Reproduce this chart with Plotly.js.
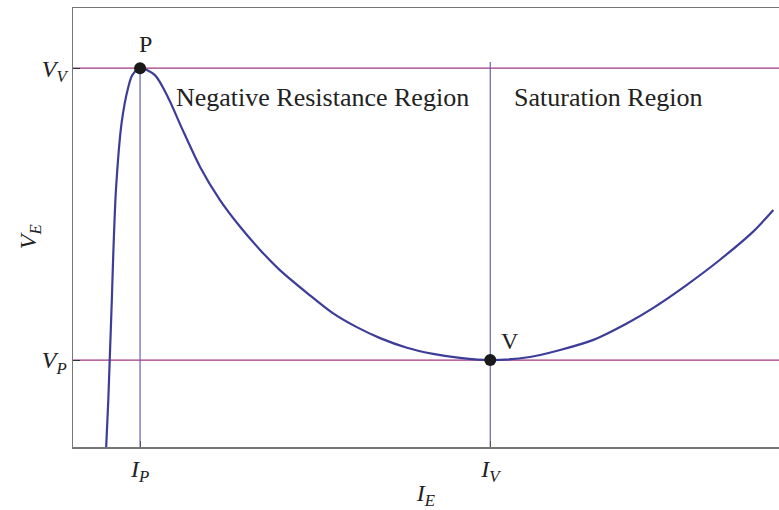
<!DOCTYPE html>
<html>
<head>
<meta charset="utf-8">
<script src="https://cdn.plot.ly/plotly-3.0.1.min.js"></script>
<style>
  body { margin: 0; background: #fff; }
  #plot { width: 779px; height: 510px; }
</style>
</head>
<body>
<div id="plot"></div>
<script>
// emitter current I_E (arbitrary units) vs emitter voltage V_E
var ie = [0.47, 0.50, 0.52, 0.55, 0.57, 0.61, 0.69, 0.78, 0.84, 0.95, 1.16, 1.35, 1.54, 1.80, 2.08,
          2.37, 2.65, 2.93, 3.33, 3.68, 4.02, 4.35, 4.73, 5.10, 5.48, 5.91, 6.47, 6.90, 7.37, 7.85,
          8.22, 8.70, 9.16, 9.63, 9.92];
var ve = [0.00, 1.07, 1.98, 3.35, 4.37, 5.90, 7.40, 8.18, 8.47, 8.63, 8.47, 7.95, 7.27, 6.38, 5.63,
          5.01, 4.49, 4.03, 3.49, 3.05, 2.73, 2.48, 2.26, 2.12, 2.03, 1.98, 2.05, 2.21, 2.44, 2.82,
          3.17, 3.70, 4.26, 4.90, 5.40];

// peak and valley points
var IP = 0.95, IV = 5.91;
var VV = 8.63, VP = 1.98;
var ivTop = 8.77;

var xTicks = [IP, IV];
var xTickText = ["<i>I</i><sub><i>P</i></sub>", "<i>I</i><sub><i>V</i></sub>"];
var yTicks = [VP, VV];
var yTickText = ["<i>V</i><sub><i>P</i></sub>", "<i>V</i><sub><i>V</i></sub>"];

var serif = "'Liberation Serif', 'Times New Roman', serif";
var hColor = "rgb(160,55,130)";
var vColor = "rgb(100,100,175)";

var traces = [
  { x: [0, 10], y: [VV, VV], mode: "lines", line: { color: hColor, width: 1.2 }, hoverinfo: "skip" },
  { x: [0, 10], y: [VP, VP], mode: "lines", line: { color: hColor, width: 1.2 }, hoverinfo: "skip" },
  { x: [IP, IP], y: [0, VV], mode: "lines", line: { color: vColor, width: 1.2 }, hoverinfo: "skip" },
  { x: [IV, IV], y: [0, ivTop], mode: "lines", line: { color: vColor, width: 1.2 }, hoverinfo: "skip" },
  { x: ie, y: ve, mode: "lines", line: { color: "rgb(61,61,153)", width: 2.2, shape: "spline", smoothing: 0.8 } },
  { x: [IP, IV], y: [VV, VP], mode: "markers", marker: { color: "#1a1a1a", size: 12 } }
];

var layout = {
  width: 779,
  height: 510,
  margin: { l: 73, r: 0, t: 8, b: 63 },
  paper_bgcolor: "#fff",
  plot_bgcolor: "#fff",
  showlegend: false,
  font: { family: serif, color: "#222" },
  xaxis: {
    range: [0, 10],
    showgrid: false,
    zeroline: false,
    showline: true,
    mirror: true,
    linecolor: "#777",
    linewidth: 1.5,
    ticks: "inside",
    ticklen: 6,
    tickcolor: "#555",
    tickvals: xTicks,
    ticktext: xTickText,
    tickfont: { family: serif, size: 24, color: "#222" },
    title: { text: "<i>I</i><sub><i>E</i></sub>", font: { family: serif, size: 24, color: "#222" }, standoff: 6 }
  },
  yaxis: {
    range: [0, 10],
    showgrid: false,
    zeroline: false,
    showline: true,
    linecolor: "#777",
    linewidth: 1.5,
    ticks: "inside",
    ticklen: 7,
    tickcolor: "#333",
    tickvals: yTicks,
    ticktext: yTickText,
    tickfont: { family: serif, size: 24, color: "#222" }
  },
  annotations: [
    { xref: "paper", yref: "paper", x: 0, y: 0.478, xshift: -60, textangle: -90,
      text: "<i>V</i><sub><i>E</i></sub>", showarrow: false, font: { family: serif, size: 24, color: "#222" } },
    { x: 3.54, y: 7.97, text: "Negative Resistance Region", showarrow: false, font: { family: serif, size: 26, color: "#222" } },
    { x: 7.58, y: 7.97, text: "Saturation Region", showarrow: false, font: { family: serif, size: 26, color: "#222" } },
    { x: 1.02, y: 9.18, text: "P", showarrow: false, font: { family: serif, size: 24, color: "#222" } },
    { x: 6.19, y: 2.41, text: "V", showarrow: false, font: { family: serif, size: 24, color: "#222" } }
  ]
};

Plotly.newPlot("plot", traces, layout, { displayModeBar: false, staticPlot: true });
</script>
</body>
</html>
